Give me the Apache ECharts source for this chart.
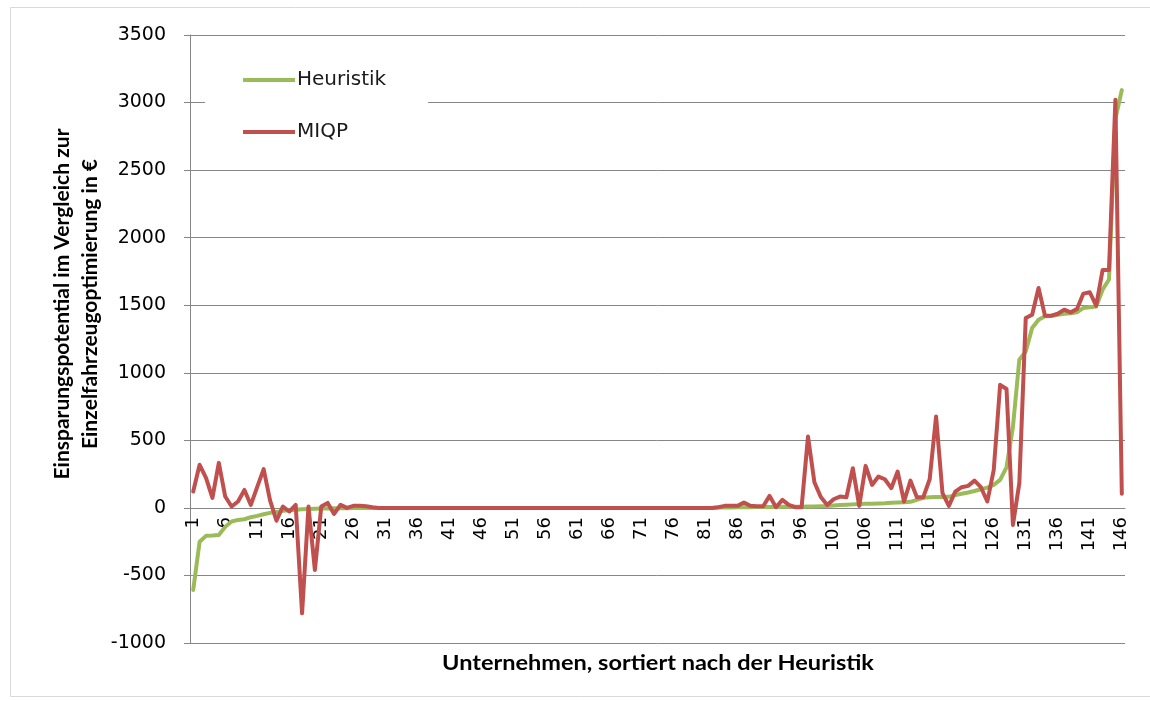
<!DOCTYPE html>
<html lang="de">
<head>
  <meta charset="UTF-8">
  <script src="https://cdn.jsdelivr.net/npm/echarts@6/dist/echarts.min.js"></script>
  <title>Einsparungspotential</title>
</head>
<body>
  <div id="chart"></div>
</body>
<style>
  html,body{
    padding: 0;
    margin: 0;
    height: 100vh;
    width: 100vw;
    background: #fff;
  }
  #chart {
    height: 701px;
    width: 1150px;
  }
</style>
</html>
<script>
// Unternehmen 1..146
const categories = []
for (let i = 1; i <= 146; i++) categories.push(String(i))

const heuristik = [
  -607, -250, -207, -205, -200, -140, -101, -89, -84, -69,
  -59, -47, -37, -30, -22, -17, -13, -10, -8, -6,
  -5, -4, -3, -2, -2, -1, -1, 0, 0, 0,
  0, 0, 0, 0, 0, 0, 0, 0, 0, 0,
  0, 0, 0, 0, 0, 0, 0, 0, 0, 0,
  0, 0, 0, 0, 0, 0, 0, 0, 0, 0,
  0, 0, 0, 0, 0, 0, 0, 0, 0, 0,
  0, 0, 0, 0, 0, 0, 0, 0, 0, 0,
  0, 0, 2, 3, 3, 4, 5, 5, 6, 6,
  7, 7, 8, 8, 9, 9, 10, 11, 12, 14,
  18, 22, 24, 26, 28, 30, 31, 32, 34, 38,
  40, 42, 45, 60, 75, 79, 80, 81, 82, 96,
  105, 114, 125, 138, 150, 170, 207, 300, 600, 1097,
  1158, 1331, 1393, 1418, 1420, 1430, 1437, 1440, 1447, 1480,
  1485, 1490, 1615, 1690, 2880, 3092
]

const miqp = [
  121, 319, 222, 74, 333, 84, 10, 47, 133, 22,
  155, 287, 55, -95, 10, -27, 22, -780, 10, -460,
  10, 37, -45, 22, 0, 15, 15, 12, 5, 0,
  0, 0, 0, 0, 0, 0, 0, 0, 0, 0,
  0, 0, 0, 0, 0, 0, 0, 0, 0, 0,
  0, 0, 0, 0, 0, 0, 0, 0, 0, 0,
  0, 0, 0, 0, 0, 0, 0, 0, 0, 0,
  0, 0, 0, 0, 0, 0, 0, 0, 0, 0,
  0, 0, 5, 15, 15, 15, 40, 15, 12, 12,
  89, 5, 59, 22, 5, 5, 528, 190, 80, 22,
  64, 84, 79, 294, 15, 311, 170, 232, 212, 146,
  269, 47, 202, 79, 79, 212, 677, 109, 15, 121,
  153, 163, 202, 153, 47, 280, 911, 880, -126, 183,
  1405, 1430, 1628, 1423, 1423, 1437, 1467, 1447, 1472, 1586,
  1596, 1497, 1760, 1760, 3020, 104
]

const axisGray = '#868686'
const labelFont = 'DejaVu Sans'
const titleFont = 'Lato'

const option = {
  animation: false,
  color: ['#9BBB59', '#C0504D'],
  grid: {
    left: 190,
    right: 25,
    top: 35,
    bottom: 58
  },
  legend: {
    orient: 'vertical',
    left: 205,
    top: 60,
    padding: [10, 42, 10, 38],
    backgroundColor: '#fff',
    icon: 'rect',
    itemWidth: 52,
    itemHeight: 4,
    itemGap: 32,
    textStyle: {
      fontFamily: labelFont,
      fontSize: 20,
      color: '#1a1a1a',
      padding: [0, 0, 0, -3]
    },
    data: ['Heuristik', 'MIQP']
  },
  xAxis: {
    type: 'category',
    data: categories,
    boundaryGap: true,
    // axis sits on the zero line, labels follow it
    offset: -135,
    axisLine: {
      onZero: false,
      lineStyle: { color: axisGray, width: 1 }
    },
    axisTick: {
      interval: 0,
      length: 7,
      lineStyle: { color: axisGray }
    },
    axisLabel: {
      interval: 4,
      rotate: 90,
      margin: 9,
      fontFamily: labelFont,
      fontSize: 18,
      color: '#000'
    },
    splitLine: { show: false }
  },
  yAxis: {
    type: 'value',
    min: -1000,
    max: 3500,
    interval: 500,
    axisLine: {
      show: true,
      lineStyle: { color: axisGray, width: 1 }
    },
    axisTick: {
      show: true,
      length: 6,
      lineStyle: { color: axisGray }
    },
    axisLabel: {
      margin: 24,
      fontFamily: labelFont,
      fontSize: 19,
      color: '#000',
      formatter: (v) => String(v)
    },
    splitLine: {
      lineStyle: { color: axisGray, width: 1 }
    }
  },
  graphic: [
    {
      type: 'rect',
      silent: true,
      shape: { x: 10.5, y: 7.5, width: 1160, height: 689 },
      style: { fill: null, stroke: '#d9d9d9', lineWidth: 1 }
    },
    {
      type: 'text',
      x: 76,
      y: 304,
      rotation: Math.PI / 2,
      style: {
        text: 'Einsparungspotential im Vergleich zur\nEinzelfahrzeugoptimierung in €',
        fontFamily: titleFont,
        fontWeight: 'bold',
        fontSize: 21,
        lineHeight: 28,
        fill: '#000',
        align: 'center',
        verticalAlign: 'middle'
      }
    },
    {
      type: 'text',
      x: 658,
      y: 663,
      scaleX: 1.12,
      style: {
        text: 'Unternehmen, sortiert nach der Heuristik',
        fontFamily: titleFont,
        fontWeight: 'bold',
        fontSize: 21,
        fill: '#000',
        align: 'center',
        verticalAlign: 'middle'
      }
    }
  ],
  series: [
    {
      name: 'Heuristik',
      type: 'line',
      data: heuristik,
      symbol: 'none',
      lineStyle: { width: 4, color: '#9BBB59', cap: 'round', join: 'round' }
    },
    {
      name: 'MIQP',
      type: 'line',
      data: miqp,
      symbol: 'none',
      lineStyle: { width: 4, color: '#C0504D', cap: 'round', join: 'round' }
    }
  ]
};

const chartDom = document.getElementById('chart');
const myChart = echarts.init(chartDom);
myChart.setOption(option);
</script>
